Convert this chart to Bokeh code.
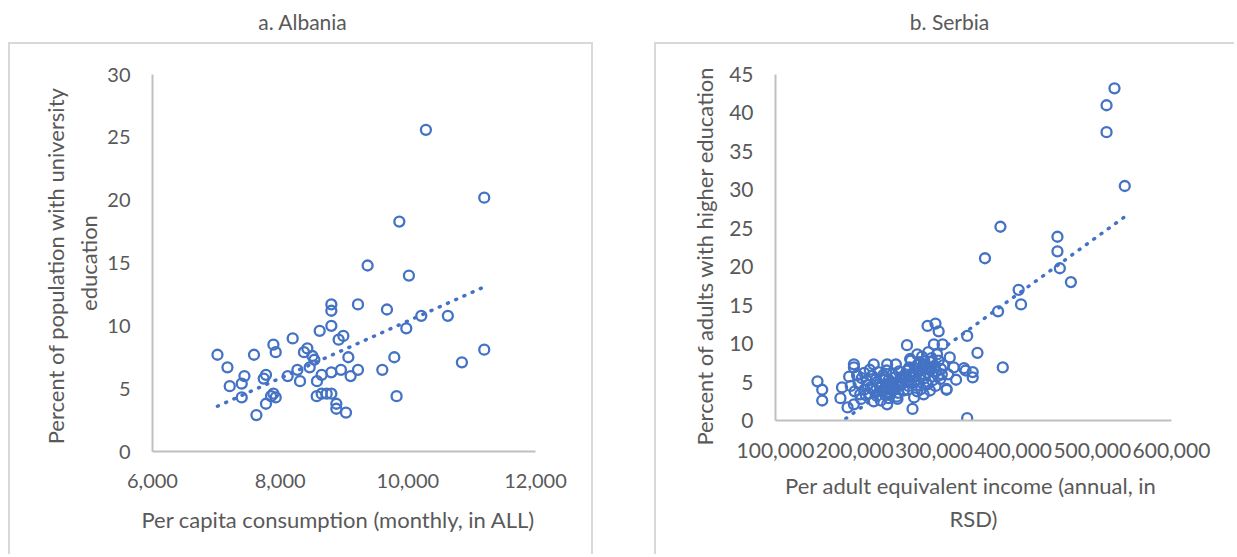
from bokeh.plotting import figure
from bokeh.models import Range1d, FixedTicker, NumeralTickFormatter, Div, Spacer
from bokeh.layouts import row, column
from bokeh.embed import file_html
from bokeh.resources import INLINE

# ---------------- data ----------------
alb_title = "a. Albania"
alb_xlabel = "Per capita consumption  (monthly,  in ALL)"
alb_ylabel = "Percent of population  with university\neducation"
alb_xticks = [6000, 8000, 10000, 12000]
alb_yticks = [0, 5, 10, 15, 20, 25, 30]
alb_x = [10283, 11197, 9867, 9370, 10017, 8802, 9219, 8802, 9673, 10211,
         10627, 8802, 9976, 8619, 8990, 8916, 8196, 7894, 7930, 7018,
         7590, 8426, 8373, 8505, 8536, 9068, 9788, 11197, 10847, 7174,
         8462, 8270, 8952, 9219, 9600, 8802, 8650, 7778, 7440, 8118,
         9104, 7742, 8311, 8577, 7398, 7210, 7894, 7857, 7398, 7930,
         8572, 8650, 8729, 8802, 9824, 7778, 8880, 8880, 9031, 7628]
alb_y = [25.6, 20.2, 18.3, 14.8, 14.0, 11.7, 11.7, 11.2, 11.3, 10.8,
         10.8, 10.0, 9.8, 9.6, 9.2, 8.9, 9.0, 8.5, 7.9, 7.7,
         7.7, 8.2, 7.9, 7.6, 7.3, 7.5, 7.5, 8.1, 7.1, 6.7,
         6.7, 6.5, 6.5, 6.5, 6.5, 6.3, 6.1, 6.1, 6.0, 6.0,
         6.0, 5.8, 5.6, 5.6, 5.4, 5.2, 4.6, 4.4, 4.3, 4.3,
         4.4, 4.6, 4.6, 4.6, 4.4, 3.8, 3.8, 3.4, 3.1, 2.9]
alb_trend_x = [7018, 11197]
alb_trend_y = [3.6, 13.1]

srb_title = "b. Serbia"
srb_xlabel = "Per adult equivalent income  (annual, in\nRSD)"
srb_ylabel = "Percent  of adults  with  higher education"
srb_xticks = [100000, 200000, 300000, 400000, 500000, 600000]
srb_yticks = [0, 5, 10, 15, 20, 25, 30, 35, 40, 45]
srb_upper_x = [528000, 518000, 518000, 541000, 384000, 364500, 456000, 456000,
               459000, 473000, 407000, 410000, 381000, 342000, 355000, 387000]
srb_upper_y = [43.2, 41.0, 37.5, 30.5, 25.2, 21.1, 23.9, 22.0,
               19.8, 18.0, 17.0, 15.1, 14.2, 11.0, 8.8, 6.9]
srb_mid_x = [292000, 302000, 306000, 300000, 311000, 266000, 279000, 320000, 271000, 287000,
             300000, 325000, 283000, 266000, 275000, 292000, 279000, 275000, 273000, 287000,
             308000, 316000, 328000, 340000, 342000, 349000, 349000, 338000, 316000]
srb_mid_y = [12.3, 12.6, 11.6, 9.9, 9.9, 9.8, 8.6, 8.2, 7.8, 7.3,
             6.9, 6.9, 6.0, 6.5, 5.1, 4.7, 3.8, 3.0, 1.5, 3.4,
             5.4, 4.0, 5.3, 6.5, 0.3, 6.3, 5.6, 6.8, 4.1]
srb_left_x = [153000, 159000, 159000, 199000, 199000, 193000, 184000, 182000, 191000, 199000,
              212000, 224000, 207000, 220000, 224000, 241000, 252000, 237000, 233000, 241000,
              254000, 245000, 258000]
srb_left_y = [5.1, 4.0, 2.6, 7.3, 6.9, 5.7, 4.3, 2.9, 1.7, 2.1,
              6.2, 7.3, 3.4, 4.3, 2.5, 7.3, 7.3, 5.6, 4.3, 2.1,
              2.8, 3.4, 5.6]
srb_core_x = [205000, 212000, 215000, 200000, 195000, 208000, 228000, 235000, 240000, 245000,
              250000, 255000, 248000, 260000, 262000, 230000, 238000, 243000, 228000, 218000,
              256000, 265000, 268000, 276000, 282000, 288000, 292000, 296000, 285000, 293000,
              298000, 303000, 306000, 310000, 278000, 284000, 295000, 270000, 302000, 312000,
              318000, 222000, 203000, 247000, 233000]
srb_core_y = [4.8, 4.0, 5.2, 3.8, 4.5, 2.8, 5.0, 3.8, 4.6, 5.0,
              4.2, 3.6, 6.0, 4.8, 3.9, 6.3, 4.0, 2.9, 3.2, 3.5,
              6.4, 5.6, 4.5, 6.8, 7.6, 5.5, 6.2, 7.6, 8.3, 8.9,
              5.2, 6.4, 7.8, 6.0, 4.6, 4.1, 3.9, 8.0, 4.5, 7.2,
              6.0, 5.8, 5.9, 3.9, 2.6]
srb_core2_x = [209000, 216000, 219000, 223000, 227000, 231000, 236000, 239000, 243000, 247000,
               251000, 253000, 257000, 261000, 267000, 269000, 273000, 277000, 281000, 286000,
               289000, 294000, 297000, 301000, 305000, 226000, 233000, 244000, 252000, 264000,
               271000, 279000, 288000, 296000, 304000, 214000, 237000, 255000, 276000, 291000,
               309000, 284000, 268000, 249000, 240000]
srb_core2_y = [5.5, 4.6, 6.6, 4.1, 5.4, 4.7, 5.9, 3.3, 5.3, 4.4,
               5.6, 3.1, 4.5, 5.5, 4.0, 6.9, 6.1, 5.3, 6.4, 7.0,
               5.9, 6.8, 8.1, 7.1, 5.8, 3.9, 4.5, 3.7, 4.9, 6.0,
               4.9, 7.2, 7.7, 6.6, 8.6, 3.3, 5.3, 5.0, 5.7, 4.8,
               6.7, 6.7, 5.0, 4.5, 6.5]
srb_x = srb_upper_x + srb_mid_x + srb_left_x + srb_core_x + srb_core2_x
srb_y = srb_upper_y + srb_mid_y + srb_left_y + srb_core_y + srb_core2_y
srb_trend_x = [152000, 541000]
srb_trend_y = [-2.5, 26.5]

# ---------------- style ----------------
FONT = "Lato"
TXT = "#595959"
BLUE = "#4472C4"
BORDER = "2px solid #d9d9d9"
PH = 512
TITLE_H = 42


def make_panel(width, mb_left, mb_right, mb_top, mb_bottom, xr, yr, xticks, yticks,
               xs, ys, tx, ty, xlabel, ylabel, x_std, y_std, tick_size, css):
    p = figure(width=width, height=PH, output_backend="svg", toolbar_location=None, tools="",
               x_range=Range1d(*xr), y_range=Range1d(*yr),
               min_border_left=mb_left, min_border_right=mb_right,
               min_border_top=mb_top, min_border_bottom=mb_bottom, styles=css)
    p.outline_line_color = None
    p.grid.visible = False
    p.background_fill_color = "white"
    p.border_fill_color = "white"
    p.xaxis.ticker = FixedTicker(ticks=xticks)
    p.yaxis.ticker = FixedTicker(ticks=yticks)
    p.xaxis.formatter = NumeralTickFormatter(format="0,0")
    for ax in (p.xaxis[0], p.yaxis[0]):
        ax.axis_line_color = "#bfbfbf"
        ax.axis_line_width = 2
        ax.major_tick_line_color = None
        ax.minor_tick_line_color = None
        ax.major_tick_out = 0
        ax.major_tick_in = 0
        ax.major_label_text_font = FONT
        ax.major_label_text_font_size = tick_size
        ax.major_label_text_color = TXT
        ax.axis_label_text_font = FONT
        ax.axis_label_text_font_size = "22px"
        ax.axis_label_text_font_style = "normal"
        ax.axis_label_text_color = TXT
        ax.axis_label_text_line_height = 1.25
    p.xaxis.major_label_standoff = 22
    p.yaxis.major_label_standoff = 22
    p.xaxis.axis_label = xlabel
    p.yaxis.axis_label = ylabel
    p.xaxis.axis_label_standoff = x_std
    p.yaxis.axis_label_standoff = y_std

    p.line(tx, ty, line_color=BLUE, line_width=3.5, line_dash="1 8", line_cap="round")
    p.scatter(xs, ys, marker="circle", size=10, fill_color=None,
              line_color=BLUE, line_width=2.3)
    return p


def make_title(text, width, pad):
    html = (f'<div style="display:block;box-sizing:border-box;width:{width}px;'
            f'text-align:center;padding-left:{pad}px;font-family:{FONT};'
            f'font-size:21px;color:{TXT};line-height:{TITLE_H + 2}px;margin:0">{text}</div>')
    return Div(text=html, width=width, height=TITLE_H,
               styles={"margin": "0", "padding": "0"})


p1 = make_panel(585, 142, 60, 30, 105, (6000, 12000), (0, 30), alb_xticks, alb_yticks,
                alb_x, alb_y, alb_trend_x, alb_trend_y, alb_xlabel, alb_ylabel, 15, 2, "20px",
                {"border-top": BORDER, "border-left": BORDER, "border-right": BORDER})
p2 = make_panel(580, 119, 65, 30, 136, (100000, 600000), (0, 45), srb_xticks, srb_yticks,
                srb_x, srb_y, srb_trend_x, srb_trend_y, srb_xlabel, srb_ylabel, 11, 8, "21px",
                {"border-top": BORDER, "border-left": BORDER})

col1 = column(make_title(alb_title, 589, 0), p1, spacing=0)
col2 = column(make_title(srb_title, 582, 9), p2, spacing=0)
layout = row(Spacer(width=8, height=10), col1, Spacer(width=57, height=10), col2, spacing=0)
open("out.html", "w").write(file_html(layout, INLINE))
